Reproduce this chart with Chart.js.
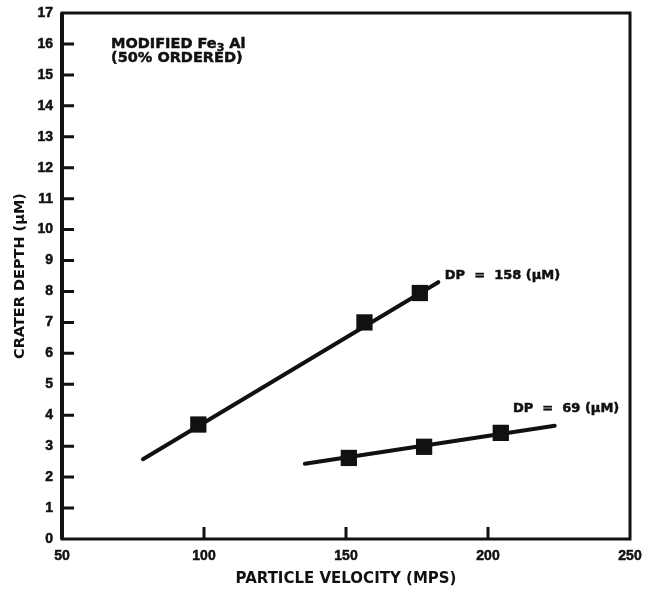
<!DOCTYPE html>
<html>
<head>
<meta charset="utf-8">
<script src="https://cdn.jsdelivr.net/npm/chart.js@4.4.1/dist/chart.umd.min.js"></script>
<style>
  html, body { margin: 0; padding: 0; background: #fff; }
  #wrap { width: 645px; height: 592px; position: relative; }
</style>
</head>
<body>
<div id="wrap"><canvas id="chart"></canvas></div>
<script>
// crater depth vs particle velocity
const xTicks = [50, 100, 150, 200, 250];
const yTicks = [0, 1, 2, 3, 4, 5, 6, 7, 8, 9, 10, 11, 12, 13, 14, 15, 16, 17];

const dp158Velocity = [98, 156.5, 176];
const dp158Depth = [3.7, 7.0, 7.95];
const dp158FitVelocity = [78.5, 182.5];
const dp158FitDepth = [2.58, 8.3];

const dp69Velocity = [151, 177.5, 204.5];
const dp69Depth = [2.62, 2.98, 3.43];
const dp69FitVelocity = [135.5, 223.5];
const dp69FitDepth = [2.43, 3.66];

const curveLabels = ["DP  =  158 (\u00b5M)", "DP  =  69 (\u00b5M)"];
const curveLabelAt = [[184.8, 8.5], [208.8, 4.2]];

const FONT = "'Liberation Sans', Arial, sans-serif";
const WIDE = "'DejaVu Sans', Verdana, sans-serif";
const INK = "#111";

const toXY = (xs, ys) => xs.map((x, i) => ({ x, y: ys[i] }));

// scanned lettering is heavy; fill plus a hairline stroke
function inkText(ctx, txt, x, y) {
    ctx.fillText(txt, x, y);
    ctx.strokeText(txt, x, y);
}

// frame, inward ticks and text notes drawn on top of the chart area
const framePlugin = {
    id: "frame",
    afterDraw(chart) {
        const { ctx, chartArea: a, scales } = chart;
        ctx.save();
        ctx.strokeStyle = INK;
        ctx.lineWidth = 3;
        ctx.strokeRect(a.left, a.top, a.right - a.left, a.bottom - a.top);
        // the left axis is drawn a bit heavier in the scan
        ctx.lineWidth = 4;
        ctx.beginPath();
        ctx.moveTo(a.left, a.top);
        ctx.lineTo(a.left, a.bottom);
        ctx.stroke();

        ctx.lineWidth = 3;
        ctx.beginPath();
        yTicks.forEach((v) => {
            if (v === 0 || v === 17) return;
            const y = scales.y.getPixelForValue(v);
            ctx.moveTo(a.left, y);
            ctx.lineTo(a.left + 12, y);
        });
        xTicks.forEach((v) => {
            if (v === 50 || v === 250) return;
            const x = scales.x.getPixelForValue(v);
            ctx.moveTo(x, a.bottom);
            ctx.lineTo(x, a.bottom - 12);
        });
        ctx.stroke();

        ctx.fillStyle = INK;
        ctx.lineWidth = 0.5;
        ctx.textBaseline = "middle";
        ctx.textAlign = "left";
        ctx.font = "bold 13px " + WIDE;
        curveLabels.forEach((txt, i) => {
            const [vx, vy] = curveLabelAt[i];
            inkText(ctx, txt, scales.x.getPixelForValue(vx), scales.y.getPixelForValue(vy));
        });

        // material note, upper left
        ctx.font = "bold 14.5px " + WIDE;
        const nx = 111, ny = 44;
        inkText(ctx, "MODIFIED Fe", nx, ny);
        const w = ctx.measureText("MODIFIED Fe").width;
        ctx.font = "bold 11px " + WIDE;
        inkText(ctx, "3", nx + w, ny + 4);
        const w3 = ctx.measureText("3").width;
        ctx.font = "bold 14.5px " + WIDE;
        inkText(ctx, " Al", nx + w + w3, ny);
        inkText(ctx, "(50% ORDERED)", nx, ny + 14);
        ctx.restore();
    },
};

const lineSet = (xs, ys) => ({
    data: toXY(xs, ys),
    showLine: true,
    borderColor: INK,
    borderWidth: 4,
    pointRadius: 0,
    borderCapStyle: "round",
});
const markerSet = (xs, ys) => ({
    data: toXY(xs, ys),
    showLine: false,
    pointStyle: "rect",
    pointRadius: 11.5,
    backgroundColor: INK,
    borderColor: INK,
    borderWidth: 0,
});

new Chart(document.getElementById("chart"), {
    type: "scatter",
    data: {
        datasets: [
            lineSet(dp158FitVelocity, dp158FitDepth),
            markerSet(dp158Velocity, dp158Depth),
            lineSet(dp69FitVelocity, dp69FitDepth),
            markerSet(dp69Velocity, dp69Depth),
        ],
    },
    options: {
        responsive: true,
        maintainAspectRatio: false,
        animation: false,
        layout: { padding: { top: 13, right: 15, left: 0, bottom: 0 } },
        plugins: { legend: { display: false }, tooltip: { enabled: false } },
        scales: {
            x: {
                type: "linear",
                min: 50,
                max: 250,
                afterBuildTicks: (s) => { s.ticks = xTicks.map((v) => ({ value: v })); },
                afterFit: (s) => {
                    s.height = 53;
                    s.paddingLeft = 0;
                    s.paddingRight = 0;
                },
                grid: { display: false, drawTicks: false },
                border: { display: false },
                ticks: {
                    color: INK,
                    padding: 9,
                    textStrokeColor: INK,
                    textStrokeWidth: 0.5,
                    font: { family: FONT, size: 14, weight: "bold" },
                },
                title: {
                    display: true,
                    text: "PARTICLE VELOCITY (MPS)",
                    color: INK,
                    padding: { top: 1 },
                    font: { family: WIDE, size: 15, weight: "bold" },
                },
            },
            y: {
                type: "linear",
                min: 0,
                max: 17,
                afterBuildTicks: (s) => { s.ticks = yTicks.map((v) => ({ value: v })); },
                afterFit: (s) => {
                    s.width = 62;
                    s.paddingTop = 0;
                    s.paddingBottom = 0;
                },
                grid: { display: false, drawTicks: false },
                border: { display: false },
                ticks: {
                    color: INK,
                    padding: 9,
                    textStrokeColor: INK,
                    textStrokeWidth: 0.5,
                    font: { family: FONT, size: 14, weight: "bold" },
                },
                title: {
                    display: true,
                    text: "CRATER DEPTH (\u00b5M)",
                    color: INK,
                    padding: { top: 12, bottom: 0 },
                    font: { family: WIDE, size: 14.5, weight: "bold" },
                },
            },
        },
    },
    plugins: [framePlugin],
});
</script>
</body>
</html>
